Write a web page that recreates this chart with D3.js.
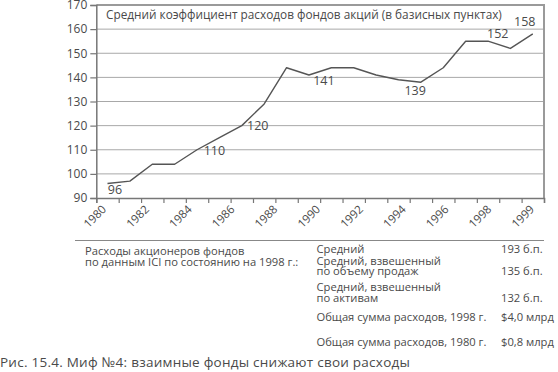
<!DOCTYPE html>
<html><head><meta charset="utf-8">
<script src="https://cdn.jsdelivr.net/npm/d3@7"></script>
<style>
body{margin:0;background:#fff;}
svg{display:block;}
text{font-family:"Open Sans",sans-serif;fill:#4a4a4a;}
</style></head>
<body>
<script>
const years = [1980,1981,1982,1983,1984,1985,1986,1987,1988,1989,1990,1991,1992,1993,1994,1995,1996,1997,1998,1999];
const expenseRatio = [96,97,104,104,110,115,120,129,144,141,144,144,141,139,138,144,155,155,152,158];
const yTicks = [90,100,110,120,130,140,150,160,170];
const xTickLabels = ["1980","1982","1984","1986","1988","1990","1992","1994","1996","1998","1999"];
const labelYears = [1980,1984,1986,1989,1994,1998,1999];
const labelTexts = ["96","110","120","141","139","152","158"];
const chartTitle = "Средний коэффициент расходов фондов акций (в базисных пунктах)";
const noteLeft = ["Расходы акционеров фондов","по данным ICI по состоянию на 1998 г.:"];
const noteItems = [["Средний"],["Средний, взвешенный","по объему продаж"],["Средний, взвешенный","по активам"],["Общая сумма расходов, 1998 г."],["Общая сумма расходов, 1980 г."]];
const noteValues = ["193 б.п.","135 б.п.","132 б.п.","$4,0 млрд","$0,8 млрд"];
const caption = "Рис. 15.4. Миф №4: взаимные фонды снижают свои расходы";

const W=558,H=372;
const svg=d3.select("body").append("svg").attr("width",W).attr("height",H);
const L=96.3,R=544,T=5,B=198;
const x=d3.scaleLinear().domain([1980,2000]).range([L,R]);
const y=d3.scaleLinear().domain([90,170]).range([B,T]);
const xl=d3.scalePoint().domain(xTickLabels).range([107,535]);

// gridlines
svg.append("g").selectAll("line").data(yTicks.filter(d=>d>90&&d<170)).join("line")
  .attr("x1",L).attr("x2",R).attr("y1",d=>y(d)).attr("y2",d=>y(d))
  .attr("stroke","#a8a8a8").attr("stroke-width",1);
// frame top & right
svg.append("line").attr("x1",L).attr("x2",R+1).attr("y1",y(170)).attr("y2",y(170)).attr("stroke","#9a9a9a").attr("stroke-width",2);
svg.append("line").attr("x1",R).attr("x2",R).attr("y1",y(170)).attr("y2",B).attr("stroke","#9a9a9a").attr("stroke-width",2);

// y axis
const ya=svg.append("g").attr("transform",`translate(${L},0)`)
  .call(d3.axisLeft(y).tickValues(yTicks).tickSize(6).tickPadding(3).tickFormat(d3.format("d")));
ya.select(".domain").attr("stroke","#777").attr("stroke-width",1.5);
ya.selectAll(".tick line").attr("stroke","#777").attr("stroke-width",1.2);
ya.selectAll("text").attr("font-size",12).attr("font-family","Open Sans").attr("fill","#4a4a4a");

// x axis
const xa=svg.append("g").attr("transform",`translate(0,${B})`)
  .call(d3.axisBottom(x).tickValues(d3.range(1980,2001)).tickSize(5).tickFormat(""));
xa.select(".domain").attr("stroke","#777").attr("stroke-width",1.5);
xa.selectAll(".tick line").attr("stroke","#777").attr("stroke-width",1.2);
svg.append("g").selectAll("text").data(xTickLabels).join("text")
  .attr("transform",d=>`translate(${xl(d)},${B+12}) rotate(-45)`)
  .attr("text-anchor","end").attr("font-size",11.5).text(d=>d);

// title
svg.append("text").attr("x",106).attr("y",19).attr("font-size",11.8).text(chartTitle);

// line
const line=d3.line().x((d,i)=>x(years[i]+0.5)).y(d=>y(d));
svg.append("path").datum(expenseRatio).attr("d",line).attr("fill","none")
  .attr("stroke","#555").attr("stroke-width",1.4).attr("stroke-linejoin","round");

// point labels
const offs={1980:[7.5,10],1984:[17.4,5],1986:[16,4],1989:[15,10],1994:[-5.7,12.5],1998:[-12.7,-10],1999:[-8,-8]};
svg.append("g").selectAll("text").data(labelYears).join("text")
  .attr("x",(d)=>x(d+0.5)+offs[d][0])
  .attr("y",(d)=>y(expenseRatio[years.indexOf(d)])+offs[d][1])
  .attr("text-anchor","middle").attr("font-size",12.5)
  .text((d,i)=>labelTexts[i]);

// notes
svg.append("line").attr("x1",75).attr("x2",544).attr("y1",240.5).attr("y2",240.5).attr("stroke","#888").attr("stroke-width",1.2);
svg.append("g").selectAll("text").data(noteLeft).join("text")
  .attr("x",85).attr("y",(d,i)=>254.5+i*11).attr("font-size",11.2).text(d=>d);
const itemY=[253,264.7,291.3,320.7,345.7];
noteItems.forEach((lines,k)=>{
  lines.forEach((t,j)=>{
    svg.append("text").attr("x",316.5).attr("y",itemY[k]+j*10.7).attr("font-size",11.2).text(t);
  });
  svg.append("text").attr("x",501).attr("y",itemY[k]+(lines.length-1)*10.7).attr("font-size",11.2).text(noteValues[k]);
});
svg.append("text").attr("x",0).attr("y",367).attr("font-family","Roboto").attr("font-size",13.5)
  .attr("letter-spacing",0.25).attr("fill","#555").text(caption);
</script>
</body></html>
